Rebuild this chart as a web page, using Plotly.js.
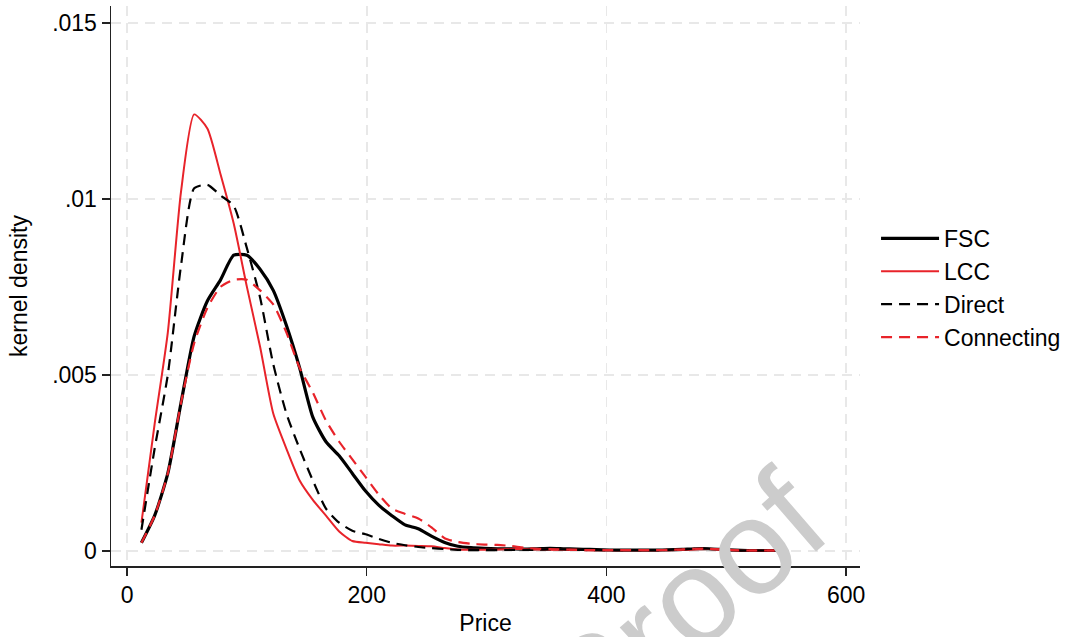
<!DOCTYPE html>
<html>
<head>
<meta charset="utf-8">
<script src="https://cdn.plot.ly/plotly-3.0.1.min.js"></script>
<style>
  html, body { margin: 0; padding: 0; background: #fff; }
  #chart { width: 1069px; height: 637px; }
</style>
</head>
<body>
<div id="chart"></div>
<script>
// Evaluation grid (Price)
const priceGrid = [12, 23, 34, 45, 56, 67, 78, 89, 100, 111,
  122, 133, 144, 155, 166, 177, 188, 199, 210, 221,
  232, 243, 254, 265, 276, 287, 298, 309, 320, 331,
  342, 353, 364, 375, 386, 397, 408, 419, 430, 441,
  452, 463, 474, 485, 496, 507, 518, 529, 540, 551];

const fscDensity = [0.00023, 0.0010, 0.0022, 0.0042, 0.0061, 0.0071, 0.0077, 0.0084, 0.0084, 0.0080,
  0.0074, 0.0064, 0.0052, 0.0038, 0.0031, 0.0027, 0.0022, 0.0017, 0.0013, 0.0010,
  0.00074, 0.00063, 0.00042, 0.00024, 0.00013, 0.00009, 0.00007, 0.00006, 0.00006, 0.00005,
  0.00006, 0.00007, 0.00006, 0.00005, 0.00004, 0.00003, 0.00002, 0.00002, 0.00002, 0.00002,
  0.00003, 0.00004, 0.00006, 0.00006, 0.00004, 0.00002, 0.00001, 0.00001, 0.00001, 0.00001];

const lccDensity = [0.0008, 0.0036, 0.0062, 0.0102, 0.0124, 0.0120, 0.0107, 0.0093, 0.0075, 0.0058,
  0.0039, 0.0029, 0.0020, 0.00145, 0.0010, 0.00055, 0.00028, 0.00023, 0.00019, 0.00015,
  0.00015, 0.00014, 0.00013, 0.00008, 0.00004, 0.00003, 0.00003, 0.00004, 0.00005, 0.00005,
  0.00004, 0.00003, 0.00003, 0.00003, 0.00002, 0.00002, 0.00002, 0.00002, 0.00002, 0.00002,
  0.00002, 0.00003, 0.00004, 0.00005, 0.00003, 0.00002, 0.00001, 0.00001, 0.00001, 0.00001];

const directDensity = [0.0006, 0.0029, 0.0050, 0.0081, 0.0103, 0.0104, 0.0101, 0.0098, 0.0086, 0.0072,
  0.0053, 0.0039, 0.0029, 0.0020, 0.0012, 0.0008, 0.00057, 0.00047, 0.00034, 0.00023,
  0.00016, 0.00011, 0.00008, 0.00005, 0.00003, 0.00002, 0.00002, 0.00002, 0.00003, 0.00003,
  0.00003, 0.00004, 0.00004, 0.00003, 0.00002, 0.00002, 0.00002, 0.00002, 0.00002, 0.00002,
  0.00003, 0.00004, 0.00006, 0.00006, 0.00004, 0.00002, 0.00001, 0.00001, 0.00001, 0.00001];

const connectingDensity = [0.00023, 0.0010, 0.0022, 0.0042, 0.0059, 0.0069, 0.0075, 0.0077, 0.0077, 0.0074,
  0.0070, 0.0062, 0.0052, 0.0045, 0.0037, 0.0031, 0.0026, 0.0021, 0.0016, 0.0012,
  0.00105, 0.00092, 0.00067, 0.00036, 0.00025, 0.0002, 0.00018, 0.00017, 0.00014, 0.00009,
  0.00006, 0.00005, 0.00004, 0.00003, 0.00002, 0.00002, 0.00002, 0.00002, 0.00002, 0.00002,
  0.00003, 0.00004, 0.00006, 0.00006, 0.00004, 0.00002, 0.00001, 0.00001, 0.00001, 0.00001];

const seriesNames = ["FSC", "LCC", "Direct", "Connecting"];
const xTickVals = [0, 200, 400, 600];
const xTickText = ["0", "200", "400", "600"];
const yTickVals = [0, 0.005, 0.01, 0.015];
const yTickText = ["0", ".005", ".01", ".015"];

const RED = "#e8232a";
const FONT = "Liberation Sans, Arial, Helvetica, sans-serif";

const traces = [
  {x: priceGrid, y: fscDensity, name: seriesNames[0], mode: "lines",
   line: {color: "#000000", width: 3.2, shape: "spline", smoothing: 0.6}},
  {x: priceGrid, y: lccDensity, name: seriesNames[1], mode: "lines",
   line: {color: RED, width: 2, shape: "spline", smoothing: 0.6}},
  {x: priceGrid, y: directDensity, name: seriesNames[2], mode: "lines",
   line: {color: "#000000", width: 2.2, dash: "11px,7px", shape: "spline", smoothing: 0.6}},
  {x: priceGrid, y: connectingDensity, name: seriesNames[3], mode: "lines",
   line: {color: RED, width: 2.2, dash: "11px,7px", shape: "spline", smoothing: 0.6}}
];

const layout = {
  width: 1069, height: 637,
  paper_bgcolor: "#ffffff", plot_bgcolor: "#ffffff",
  font: {family: FONT, size: 23, color: "#000"},
  margin: {l: 111, r: 209, t: 6, b: 71},
  showlegend: true,
  legend: {xref: "container", yref: "container", x: 0.8195, xanchor: "left",
           y: 0.548, yanchor: "middle",
           font: {family: FONT, size: 23, color: "#000"},
           itemwidth: 58, tracegroupgap: 0, bgcolor: "rgba(0,0,0,0)"},
  xaxis: {
    range: [-13.4, 611.6],
    tickvals: xTickVals, ticktext: xTickText,
    ticks: "outside", ticklen: 8, tickwidth: 1.3, tickcolor: "#222",
    showline: true, linecolor: "#222", linewidth: 1.5,
    showgrid: true, gridcolor: "#e8e8e8", gridwidth: 1.8, griddash: "10px,7px",
    zeroline: false,
    tickfont: {family: FONT, size: 23, color: "#000"},
    title: {text: "Price", font: {family: FONT, size: 23, color: "#000"}, standoff: 8}
  },
  yaxis: {
    range: [-0.00043, 0.01548],
    tickvals: yTickVals, ticktext: yTickText,
    ticks: "outside", ticklen: 8, tickwidth: 1.3, tickcolor: "#222",
    showline: true, linecolor: "#222", linewidth: 1.5,
    showgrid: true, gridcolor: "#e8e8e8", gridwidth: 1.8, griddash: "10px,7px",
    zeroline: false,
    automargin: true,
    tickfont: {family: FONT, size: 23, color: "#000"},
    title: {text: "kernel density", standoff: 18, font: {family: FONT, size: 23, color: "#000"}}
  },
  annotations: [
    {text: "Proof", xref: "paper", yref: "paper", x: 0.764, y: -0.071,
     xanchor: "center", yanchor: "middle", showarrow: false, textangle: -41,
     font: {family: FONT, size: 135, color: "#cccccc"}}
  ]
};

Plotly.newPlot("chart", traces, layout, {displayModeBar: false, staticPlot: true});
</script>
</body>
</html>
